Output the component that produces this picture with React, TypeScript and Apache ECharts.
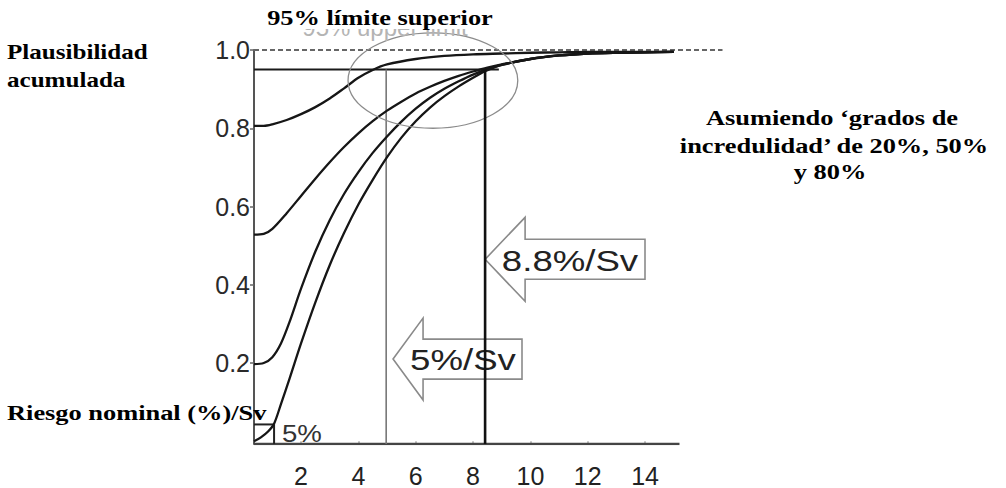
import React, { useEffect, useRef } from "react";
import * as echarts from "echarts";

// ---- data ----
const X_TICKS = [2, 4, 6, 8, 10, 12, 14];
const Y_TICKS = [0.2, 0.4, 0.6, 0.8, 1.0];

const X_MIN = 0.36;
const X_MAX = 16.7;
const X_AXIS_END = 15.2;
const Y_MIN = -0.007;
const Y_MAX = 1.0;

// cumulative plausibility curves (x = nominal risk %/Sv, y = cumulative plausibility)
const curve80: number[][] = [
  [0.36, 0.806], [0.7, 0.806], [1.0, 0.81], [1.5, 0.821], [2.0, 0.836], [2.5, 0.854],
  [3.0, 0.876], [3.5, 0.902], [4.0, 0.929], [4.5, 0.949], [5.0, 0.963], [6.0, 0.977],
  [7.0, 0.985], [8.0, 0.989], [9.0, 0.991], [10, 0.993], [11, 0.994], [12, 0.995],
  [13, 0.995], [14, 0.995], [15, 0.995],
];
const curve50: number[][] = [
  [0.36, 0.528], [0.7, 0.53], [1.0, 0.543], [1.5, 0.583], [2.0, 0.627], [2.5, 0.671],
  [3.0, 0.713], [3.5, 0.752], [4.0, 0.787], [4.5, 0.818], [5.0, 0.845], [5.5, 0.868],
  [6.0, 0.889], [6.5, 0.906], [7.0, 0.921], [7.5, 0.934], [8.0, 0.945], [8.5, 0.955],
  [9, 0.963], [10, 0.977], [11, 0.986], [12, 0.991], [13, 0.993], [14, 0.994], [15, 0.995],
];
const curve20: number[][] = [
  [0.36, 0.197], [0.7, 0.2], [1.0, 0.215], [1.3, 0.25], [1.6, 0.305], [2.0, 0.39],
  [2.5, 0.485], [3.0, 0.565], [3.5, 0.632], [4.0, 0.688], [4.5, 0.737], [5.0, 0.779],
  [5.5, 0.817], [6.0, 0.85], [6.5, 0.878], [7.0, 0.901], [7.5, 0.92], [8.0, 0.937],
  [8.5, 0.951], [9, 0.962], [10, 0.977], [11, 0.986], [12, 0.991], [13, 0.993],
  [14, 0.994], [15, 0.995],
];
const curve0: number[][] = [
  [0.36, 0.0], [0.6, 0.01], [0.85, 0.025], [1.06, 0.045], [1.3, 0.095], [1.6, 0.16],
  [2.0, 0.25], [2.5, 0.355], [3.0, 0.45], [3.5, 0.532], [4.0, 0.605], [4.5, 0.668],
  [5.0, 0.726], [5.5, 0.776], [6.0, 0.818], [6.5, 0.853], [7.0, 0.882], [7.5, 0.907],
  [8.0, 0.929], [8.42, 0.946], [9, 0.962], [10, 0.977], [11, 0.986], [12, 0.991],
  [13, 0.993], [14, 0.994], [15, 0.995],
];

const UPPER_LIMIT = 0.95;
const LINE_5 = 4.97;
const LINE_88 = 8.42;
const UPPER_LINE_END = 8.9;
const BOX_X = 1.06;
const BOX_Y = 0.043;

const ELLIPSE_C = [6.6, 0.922];
const ELLIPSE_R = [2.96, 0.122];

const ARROW_88 = { tip: [8.42, 0.465], label: "8.8%/Sv" };
const ARROW_5 = { tip: [5.21, 0.21], label: "5%/Sv" };

const serif = "'Liberation Serif', 'Times New Roman', serif";
const sans = "'Liberation Sans', Arial, Helvetica, sans-serif";

function seg(name: string, pts: number[][], color: string, width: number, type: any = "solid", z = 3) {
  return {
    name,
    type: "line",
    data: pts,
    showSymbol: false,
    symbol: "none",
    smooth: false,
    z,
    lineStyle: { color, width, type },
    silent: true,
  };
}

function curve(name: string, pts: number[][]) {
  return {
    name,
    type: "line",
    data: pts,
    showSymbol: false,
    symbol: "none",
    smooth: 0.3,
    z: 3,
    lineStyle: { color: "#161616", width: 2.3 },
    silent: true,
  };
}

export default function App() {
  const ref = useRef<HTMLDivElement>(null);

  useEffect(() => {
    if (!ref.current) return;
    const chart = echarts.init(ref.current, undefined, { renderer: "svg" });

    chart.setOption({
      animation: false,
      backgroundColor: "#ffffff",
      grid: { left: 254, top: 50, width: 468.5, height: 399, containLabel: false },
      xAxis: {
        type: "value",
        min: X_MIN,
        max: X_MAX,
        axisLine: { show: false },
        splitLine: { show: false },
        axisTick: { show: true, length: 3, lineStyle: { color: "#aaa", width: 1.5 }, customValues: X_TICKS },
        axisLabel: {
          customValues: X_TICKS,
          fontSize: 25,
          fontFamily: sans,
          color: "#222",
          margin: 19,
        },
      },
      yAxis: {
        type: "value",
        min: Y_MIN,
        max: Y_MAX,
        axisLine: { show: true, lineStyle: { color: "#555", width: 2 } },
        splitLine: { show: false },
        axisTick: { show: true, length: 4, lineStyle: { color: "#666", width: 1.5 }, customValues: Y_TICKS },
        axisLabel: {
          customValues: Y_TICKS,
          fontSize: 25,
          fontFamily: sans,
          color: "#2a2a2a",
          margin: 4,
          formatter: (v: number) => v.toFixed(1),
        },
      },
      series: [
        seg("baseline", [[X_MIN, Y_MIN], [X_AXIS_END, Y_MIN]], "#444", 2.5),
        seg("one", [[X_MIN, 1.0], [X_MAX, 1.0]], "#666", 2, [5, 3], 2),
        seg("upper", [[X_MIN, UPPER_LIMIT], [UPPER_LINE_END, UPPER_LIMIT]], "#1a1a1a", 2),
        seg("v5", [[LINE_5, UPPER_LIMIT], [LINE_5, Y_MIN]], "#777", 1.6),
        seg("v88", [[LINE_88, UPPER_LIMIT], [LINE_88, Y_MIN]], "#111", 2.6, "solid", 5),
        seg("boxTop", [[X_MIN, BOX_Y], [BOX_X, BOX_Y]], "#222", 2),
        seg("boxRight", [[BOX_X, BOX_Y], [BOX_X, Y_MIN]], "#222", 2),
        curve("c80", curve80),
        curve("c50", curve50),
        curve("c20", curve20),
        curve("c0", curve0),
      ],
    });

    const px = (p: number[]) => chart.convertToPixel({ gridIndex: 0 }, p) as number[];

    const arrow = (a: { tip: number[]; label: string }, headLen: number, headHalf: number, shaftHalf: number, rightX: number, textX: number) => {
      const t = px(a.tip);
      const hx = t[0] + headLen;
      const pts = [
        [t[0], t[1]],
        [hx, t[1] - headHalf],
        [hx, t[1] - shaftHalf],
        [rightX, t[1] - shaftHalf],
        [rightX, t[1] + shaftHalf],
        [hx, t[1] + shaftHalf],
        [hx, t[1] + headHalf],
      ];
      return [
        {
          type: "polygon",
          z: 1,
          shape: { points: pts },
          style: { fill: "#fff", stroke: "#8a8a8a", lineWidth: 1.6 },
        },
        {
          type: "text",
          z: 1,
          x: textX,
          y: t[1] + 1,
          scaleX: 1.22,
          style: {
            text: a.label,
            fontSize: 30,
            fontFamily: sans,
            fill: "#222",
            align: "center",
            verticalAlign: "middle",
          },
        },
      ];
    };

    const ec = px(ELLIPSE_C);
    const er = px([ELLIPSE_C[0] + ELLIPSE_R[0], ELLIPSE_C[1] + ELLIPSE_R[1]]);

    const label = (text: string, x: number, y: number, align: string, scaleX = 1.2) => ({
      type: "text",
      z: 20,
      x,
      y,
      scaleX,
      style: {
        text,
        fontSize: 22,
        fontWeight: "bold",
        fontFamily: serif,
        fill: "#000",
        align,
        verticalAlign: "middle",
      },
    });

    chart.setOption({
      graphic: [
        {
          type: "ellipse",
          z: 4,
          shape: { cx: ec[0], cy: ec[1], rx: Math.abs(er[0] - ec[0]), ry: Math.abs(er[1] - ec[1]) },
          style: { fill: "none", stroke: "#8c8c8c", lineWidth: 1.3 },
        },
        ...arrow(ARROW_88, 40, 42, 20, 645, 570),
        ...arrow(ARROW_5, 30, 41, 20, 522, 463),
        {
          type: "text",
          z: 18,
          x: 282,
          y: 434,
          scaleX: 1.15,
          style: { text: "5%", fontSize: 24, fontFamily: sans, fill: "#333", align: "left", verticalAlign: "middle" },
        },
        {
          type: "text",
          z: 18,
          x: 385,
          y: 27,
          style: { text: "95% upper limit", fontSize: 24, fontFamily: sans, fill: "#b4b4b4", align: "center", verticalAlign: "middle" },
        },
        {
          type: "rect",
          z: 19,
          shape: { x: 250, y: 0, width: 270, height: 29 },
          style: { fill: "#fff" },
        },
        label("95% límite superior", 380, 17, "center"),
        label("Plausibilidad", 7, 52, "left", 1.14),
        label("acumulada", 7, 80, "left", 1.14),
        label("Riesgo nominal (%)/Sv", 7, 412, "left"),
        label("Asumiendo ‘grados de", 832, 117, "center"),
        label("incredulidad’ de 20%, 50%", 834, 145, "center"),
        label("y 80%", 830, 171, "center"),
      ],
    });

    return () => chart.dispose();
  }, []);

  return (
    <div
      ref={ref}
      style={{ position: "fixed", left: 0, top: 0, width: 1006, height: 488, background: "#fff" }}
    />
  );
}
